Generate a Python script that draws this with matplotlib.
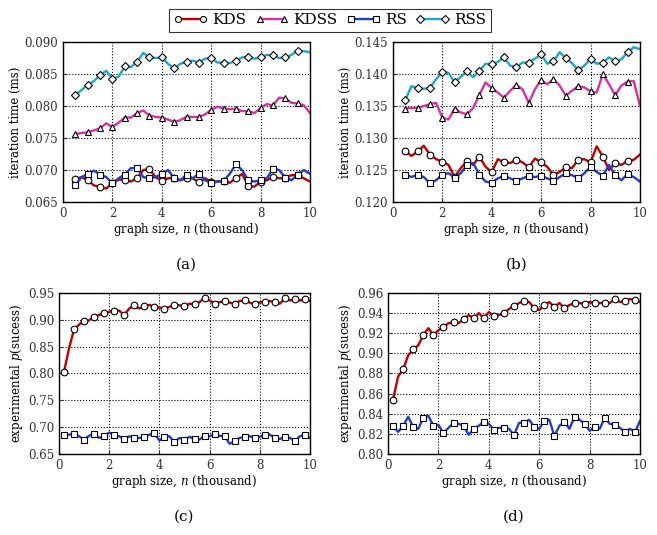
"""Iteration time and success rate of the four samplers against graph size."""
import matplotlib
matplotlib.use("Agg")
import matplotlib.pyplot as plt
import numpy as np

plt.rcParams["font.family"] = "DejaVu Serif"
plt.rcParams["mathtext.fontset"] = "dejavuserif"

# x grids: timing panels sampled every 0.25, success panels every 0.2
X_TIME = np.arange(0.5, 10.001, 0.25)
X_SUCC = np.arange(0.2, 10.001, 0.2)

# (a) iteration time (ms)
A_KDS = [0.0686, 0.0689, 0.0684, 0.0676, 0.0674, 0.0671, 0.0680, 0.0685, 0.0685, 0.0682,
         0.0687, 0.0700, 0.0701, 0.0689, 0.0683, 0.0687, 0.0688, 0.0684, 0.0687, 0.0687,
         0.0681, 0.0687, 0.0682, 0.0682, 0.0683, 0.0680, 0.0687, 0.0694, 0.0675, 0.0674,
         0.0682, 0.0684, 0.0689, 0.0687, 0.0688, 0.0692, 0.0692, 0.0687, 0.0682]
A_KDSS = [0.0756, 0.0758, 0.0759, 0.0762, 0.0765, 0.0773, 0.0767, 0.0774, 0.0782, 0.0782,
          0.0789, 0.0793, 0.0785, 0.0783, 0.0782, 0.0779, 0.0775, 0.0778, 0.0783, 0.0783,
          0.0783, 0.0787, 0.0794, 0.0799, 0.0796, 0.0795, 0.0796, 0.0792, 0.0792, 0.0789,
          0.0797, 0.0803, 0.0801, 0.0813, 0.0812, 0.0805, 0.0804, 0.0801, 0.0789]
A_RS = [0.0676, 0.0689, 0.0694, 0.0699, 0.0693, 0.0689, 0.0679, 0.0687, 0.0693, 0.0703,
        0.0703, 0.0689, 0.0687, 0.0689, 0.0694, 0.0700, 0.0687, 0.0684, 0.0693, 0.0687,
        0.0694, 0.0684, 0.0680, 0.0682, 0.0683, 0.0694, 0.0709, 0.0700, 0.0684, 0.0682,
        0.0684, 0.0687, 0.0702, 0.0700, 0.0688, 0.0684, 0.0693, 0.0700, 0.0694]
A_RSS = [0.0817, 0.0825, 0.0833, 0.0839, 0.0848, 0.0855, 0.0843, 0.0846, 0.0862, 0.0861,
         0.0869, 0.0883, 0.0876, 0.0875, 0.0876, 0.0866, 0.0859, 0.0866, 0.0869, 0.0871,
         0.0868, 0.0874, 0.0875, 0.0868, 0.0868, 0.0867, 0.0871, 0.0876, 0.0877, 0.0874,
         0.0876, 0.0880, 0.0879, 0.0875, 0.0876, 0.0880, 0.0886, 0.0886, 0.0884]

# (b) iteration time (ms)
B_KDS = [0.1280, 0.1272, 0.1279, 0.1288, 0.1274, 0.1267, 0.1263, 0.1258, 0.1239, 0.1253,
         0.1264, 0.1258, 0.1271, 0.1255, 0.1247, 0.1267, 0.1262, 0.1261, 0.1266, 0.1262,
         0.1254, 0.1268, 0.1262, 0.1255, 0.1242, 0.1247, 0.1254, 0.1253, 0.1266, 0.1267,
         0.1262, 0.1287, 0.1271, 0.1250, 0.1261, 0.1258, 0.1264, 0.1266, 0.1274]
B_KDSS = [0.1346, 0.1347, 0.1347, 0.1350, 0.1353, 0.1355, 0.1332, 0.1329, 0.1346, 0.1340,
          0.1337, 0.1347, 0.1367, 0.1387, 0.1378, 0.1371, 0.1363, 0.1374, 0.1383, 0.1376,
          0.1355, 0.1376, 0.1391, 0.1384, 0.1392, 0.1382, 0.1366, 0.1374, 0.1381, 0.1379,
          0.1373, 0.1371, 0.1400, 0.1384, 0.1367, 0.1382, 0.1388, 0.1389, 0.1351]
B_RS = [0.1243, 0.1239, 0.1243, 0.1239, 0.1229, 0.1234, 0.1243, 0.1245, 0.1238, 0.1245,
        0.1258, 0.1261, 0.1243, 0.1232, 0.1230, 0.1237, 0.1241, 0.1237, 0.1233, 0.1237,
        0.1241, 0.1239, 0.1241, 0.1237, 0.1233, 0.1239, 0.1245, 0.1242, 0.1237, 0.1245,
        0.1255, 0.1247, 0.1241, 0.1258, 0.1242, 0.1234, 0.1244, 0.1239, 0.1232]
B_RSS = [0.1359, 0.1381, 0.1378, 0.1377, 0.1378, 0.1392, 0.1403, 0.1402, 0.1387, 0.1396,
         0.1404, 0.1395, 0.1405, 0.1416, 0.1415, 0.1419, 0.1426, 0.1413, 0.1411, 0.1418,
         0.1418, 0.1424, 0.1431, 0.1416, 0.1420, 0.1434, 0.1425, 0.1417, 0.1406, 0.1413,
         0.1424, 0.1416, 0.1418, 0.1426, 0.1420, 0.1423, 0.1434, 0.1442, 0.1439]

# (c) experimental p(success)
C_KDS = [0.803, 0.847, 0.882, 0.891, 0.898, 0.899, 0.906, 0.909, 0.912, 0.915,
         0.917, 0.917, 0.909, 0.921, 0.927, 0.921, 0.925, 0.928, 0.923, 0.923,
         0.921, 0.924, 0.928, 0.927, 0.925, 0.930, 0.929, 0.933, 0.941, 0.936,
         0.930, 0.933, 0.935, 0.932, 0.930, 0.935, 0.936, 0.932, 0.929, 0.933,
         0.933, 0.935, 0.933, 0.930, 0.940, 0.936, 0.938, 0.936, 0.938, 0.935]
C_RS = [0.686, 0.686, 0.688, 0.683, 0.677, 0.684, 0.688, 0.680, 0.684, 0.690,
        0.685, 0.683, 0.678, 0.683, 0.680, 0.680, 0.681, 0.686, 0.689, 0.675,
        0.682, 0.683, 0.672, 0.680, 0.677, 0.682, 0.678, 0.677, 0.684, 0.683,
        0.687, 0.684, 0.683, 0.669, 0.674, 0.680, 0.682, 0.683, 0.680, 0.682,
        0.686, 0.686, 0.680, 0.678, 0.682, 0.680, 0.674, 0.683, 0.686, 0.680]

# (d) experimental p(success)
D_KDS = [0.854, 0.877, 0.884, 0.898, 0.904, 0.908, 0.918, 0.925, 0.918, 0.923,
         0.926, 0.930, 0.931, 0.930, 0.934, 0.938, 0.935, 0.940, 0.935, 0.941,
         0.937, 0.938, 0.940, 0.944, 0.947, 0.950, 0.952, 0.951, 0.945, 0.943,
         0.948, 0.951, 0.946, 0.950, 0.945, 0.948, 0.950, 0.950, 0.949, 0.951,
         0.950, 0.950, 0.950, 0.950, 0.954, 0.951, 0.952, 0.954, 0.953, 0.951]
D_RS = [0.828, 0.822, 0.828, 0.837, 0.827, 0.825, 0.836, 0.838, 0.828, 0.829,
        0.821, 0.826, 0.831, 0.830, 0.828, 0.819, 0.825, 0.828, 0.832, 0.830,
        0.824, 0.826, 0.826, 0.825, 0.819, 0.831, 0.831, 0.834, 0.827, 0.825,
        0.833, 0.834, 0.818, 0.828, 0.832, 0.825, 0.837, 0.834, 0.830, 0.823,
        0.827, 0.825, 0.836, 0.830, 0.829, 0.826, 0.822, 0.825, 0.822, 0.833]

Y_TICKS_A = [0.065, 0.070, 0.075, 0.080, 0.085, 0.090]
Y_TICKS_B = [0.120, 0.125, 0.130, 0.135, 0.140, 0.145]
Y_TICKS_C = [0.65, 0.70, 0.75, 0.80, 0.85, 0.90, 0.95]
Y_TICKS_D = [0.80, 0.82, 0.84, 0.86, 0.88, 0.90, 0.92, 0.94, 0.96]

STYLES = {
    "KDS": dict(color="#c00000", marker="o"),
    "KDSS": dict(color="#d92fa6", marker="^"),
    "RS": dict(color="#1f3ed0", marker="s"),
    "RSS": dict(color="#1aa7c9", marker="D"),
}


def draw(ax, x, series, every, yticks, ylabel, fmt):
    for name, y in series:
        st = STYLES[name]
        ax.plot(x, y, color=st["color"], lw=1.7, marker=st["marker"],
                markevery=every, ms=4.8 if st["marker"] != "D" else 4.2,
                mfc="white", mec="black", mew=0.8, label=name)
    ax.set_xlim(0, 10)
    ax.set_ylim(yticks[0], yticks[-1])
    ax.set_xticks([0, 2, 4, 6, 8, 10])
    ax.set_yticks(yticks)
    ax.set_yticklabels([fmt.format(v) for v in yticks])
    ax.grid(True, color="black", linestyle=":", linewidth=0.8)
    ax.tick_params(direction="in", labelsize=8.5, colors="#333333", length=3)
    ax.set_xlabel("graph size, $n$ (thousand)", fontsize=8.5, labelpad=1)
    ax.set_ylabel(ylabel, fontsize=8.5, labelpad=2)
    for s in ax.spines.values():
        s.set_linewidth(1.0)


fig = plt.figure(figsize=(6.57, 5.35), dpi=100)
ax_a = fig.add_axes([0.0959, 0.6224, 0.376, 0.299])
ax_b = fig.add_axes([0.598, 0.6224, 0.376, 0.299])
ax_c = fig.add_axes([0.0898, 0.1514, 0.382, 0.301])
ax_d = fig.add_axes([0.5906, 0.1514, 0.3836, 0.301])

every_t = slice(0, len(X_TIME) - 1, 2)
draw(ax_a, X_TIME, [("KDS", A_KDS), ("KDSS", A_KDSS), ("RS", A_RS), ("RSS", A_RSS)],
     every_t, Y_TICKS_A, "iteration time (ms)", "{:.3f}")
draw(ax_b, X_TIME, [("KDS", B_KDS), ("KDSS", B_KDSS), ("RS", B_RS), ("RSS", B_RSS)],
     every_t, Y_TICKS_B, "iteration time (ms)", "{:.3f}")
draw(ax_c, X_SUCC, [("KDS", C_KDS), ("RS", C_RS)],
     2, Y_TICKS_C, "experimental $p$(sucess)", "{:.2f}")
draw(ax_d, X_SUCC, [("KDS", D_KDS), ("RS", D_RS)],
     2, Y_TICKS_D, "experimental $p$(sucess)", "{:.2f}")

for ax, tag in [(ax_a, "(a)"), (ax_b, "(b)"), (ax_c, "(c)"), (ax_d, "(d)")]:
    ax.text(0.5, -0.39, tag, transform=ax.transAxes, ha="center", va="center",
            fontsize=11)

handles, labels = ax_a.get_legend_handles_labels()
leg = fig.legend(handles, labels, loc="upper center", bbox_to_anchor=(0.502, 0.998),
                 ncol=4, numpoints=2, markerscale=0.9, fontsize=11, frameon=True,
                 fancybox=False, handlelength=2.2, handletextpad=0.3,
                 columnspacing=0.6, borderpad=0.3)
leg.get_frame().set_edgecolor("black")
leg.get_frame().set_linewidth(0.8)

fig.savefig("out.png", dpi=100)
